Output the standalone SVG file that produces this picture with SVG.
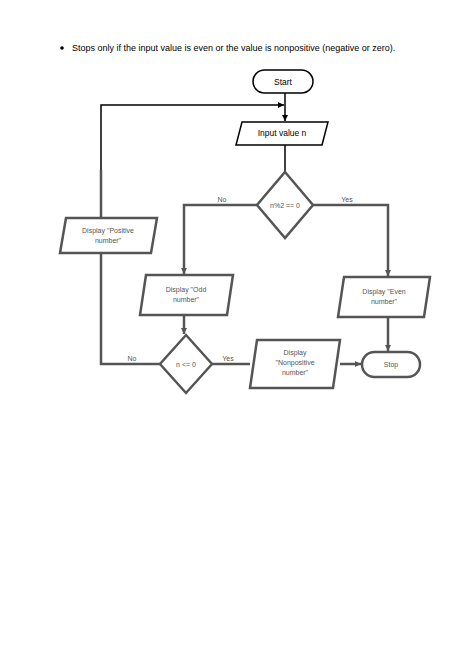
<svg xmlns="http://www.w3.org/2000/svg" width="474" height="670" viewBox="0 0 474 670">
<style>
.s{fill:#fff;stroke:#000;stroke-width:1.5}
.g{fill:#fff;stroke:#555;stroke-width:2.5}
.l{fill:none;stroke:#000;stroke-width:1.5}
.lg{fill:none;stroke:#555;stroke-width:2.5}
text{font-family:"Liberation Sans",Arial,sans-serif;font-size:8.5px;fill:#000;text-anchor:middle}
.t{fill:#555;font-size:7px}
</style>
<defs><marker id="a" markerUnits="userSpaceOnUse" markerWidth="7" markerHeight="7" refX="6" refY="3.5" orient="auto"><path d="M0,0.5L6,3.5L0,6.5z" fill="#000"/></marker>
<marker id="b" markerUnits="userSpaceOnUse" markerWidth="7" markerHeight="7" refX="6" refY="3.5" orient="auto"><path d="M0,0.5L6,3.5L0,6.5z" fill="#555"/></marker></defs>
<rect width="474" height="670" fill="#fff"/>
<circle cx="62" cy="48" r="1.8" fill="#000"/>
<text x="72" y="51" style="text-anchor:start;font-size:9px">Stops only if the input value is even or the value is nonpositive (negative or zero).</text>
<g id="connectors">
<path class="l" d="M285,93V121" marker-end="url(#a)"/>
<path class="l" d="M101,170V105H284" marker-end="url(#a)"/>
<path class="l" d="M285,145V172"/>
<path class="lg" d="M257,205H184V274" marker-end="url(#b)"/>
<path class="lg" d="M313,205H388V276" marker-end="url(#b)"/>
<path class="lg" d="M184,315V334" marker-end="url(#b)"/>
<path class="lg" d="M388,317V351" marker-end="url(#b)"/>
<path class="lg" d="M212,364H250"/>
<path class="lg" d="M340,364H361" marker-end="url(#b)"/>
<path class="lg" d="M160,364H101V253M101,218V170"/>
<text class="t" x="132" y="361">No</text>
<text class="t" x="228" y="361">Yes</text>
<text class="t" x="222" y="202">No</text>
<text class="t" x="347" y="202">Yes</text>
</g>
<g id="start"><rect class="s" x="253" y="70" width="60" height="23" rx="11.5"/><text x="283" y="85">Start</text></g>
<g id="input"><path class="s" d="M242,122H328L322,145H236z"/><text x="282" y="136">Input value n</text></g>
<g id="d1"><path class="g" d="M285,172L313,205L285,238L257,205z"/><text class="t" x="285" y="208">n%2 == 0</text></g>
<g id="odd"><path class="g" d="M146,275H233L227,315H140z"/><text class="t" x="186" y="292">Display "Odd</text><text class="t" x="186" y="302">number"</text></g>
<g id="even"><path class="g" d="M344,277H430L424,317H338z"/><text class="t" x="384" y="294">Display "Even</text><text class="t" x="384" y="304">number"</text></g>
<g id="d2"><path class="g" d="M186,335L212,364L186,393L160,364z"/><text class="t" x="186" y="367">n &lt;= 0</text></g>
<g id="nonpos"><path class="g" d="M257,340H340L333,388H250z"/><text class="t" x="295" y="355">Display</text><text class="t" x="295" y="365">"Nonpositive</text><text class="t" x="295" y="375">number"</text></g>
<g id="stop"><rect class="g" x="362" y="352" width="58" height="25" rx="12.5"/><text class="t" x="391" y="367">Stop</text></g>
<g id="pos"><path class="g" d="M66,218H157L151,253H60z"/><text class="t" x="108" y="233">Display "Positive</text><text class="t" x="108" y="243">number"</text></g>
</svg>
